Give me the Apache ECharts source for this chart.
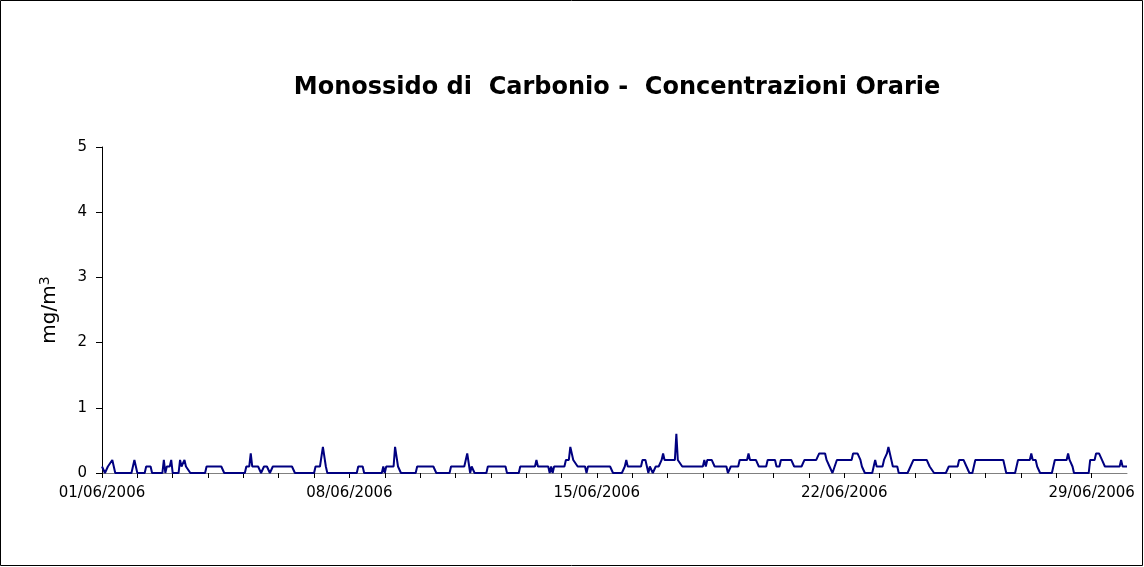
<!DOCTYPE html>
<html>
<head>
<meta charset="utf-8">
<script src="https://cdn.jsdelivr.net/npm/echarts@6/dist/echarts.min.js"></script>
<style>
  html, body { margin: 0; padding: 0; background: #fff; }
  #main { width: 1144px; height: 567px; }
</style>
</head>
<body>
<div id="main"></div>
<script>
// CO hourly concentrations, June 2006 — [hour since 01/06 00:00, mg/m3] at each change of value
const week1 = [[0,0.1],[2,0],[4,0.1],[7,0.2],[9,0],[20,0],[22,0.2],[24,0],[29,0],[30,0.1],[33,0.1],[34,0],
  [41,0],[42,0.2],[43,0],[44,0.1],[46,0.1],[47,0.2],[48,0],[52,0],[53,0.2],[54,0.1],[56,0.2],[57,0.1],[58,0.1],[60,0],
  [70,0],[71,0.1],[81,0.1],[83,0],[97,0],[98,0.1],[100,0.1],[101,0.3],[102,0.1],[106,0.1],[108,0],[110,0.1],[112,0.1],
  [114,0],[116,0.1],[129,0.1],[131,0],[144,0],[145,0.1],[148,0.1],[150,0.4],[152,0.1],[153,0]];
const week2 = [[173,0],[174,0.1],[177,0.1],[178,0],[190,0],[191,0.1],[192,0],[193,0.1],[198,0.1],[199,0.4],[201,0.1],
  [202,0.1],[203,0],[213,0],[214,0.1],[225,0.1],[227,0],[236,0],[237,0.1],[246,0.1],[248,0.3],[250,0],[251,0.1],[253,0],
  [261,0],[262,0.1],[274,0.1],[275,0],[283,0],[284,0.1],[294,0.1],[295,0.2],[296,0.1],[303,0.1],[304,0],[305,0.1],[306,0],
  [307,0.1],[314,0.1],[315,0.2],[317,0.2],[318,0.4],[320,0.2],[321,0.2],[323,0.1],[328,0.1],[329,0],[330,0.1]];
const week3 = [[345,0.1],[347,0],[353,0],[355,0.1],[356,0.2],[357,0.1],[366,0.1],[367,0.2],[369,0.2],[370,0.1],[371,0],
  [372,0.1],[374,0],[376,0.1],[378,0.1],[380,0.2],[381,0.3],[382,0.2],[389,0.2],[390,0.6],[391,0.2],[392,0.2],[394,0.1],
  [408,0.1],[409,0.2],[410,0.1],[411,0.2],[414,0.2],[416,0.1],[424,0.1],[425,0],[427,0.1],[432,0.1],[433,0.2],[438,0.2],
  [439,0.3],[440,0.2],[444,0.2],[446,0.1],[451,0.1],[452,0.2],[457,0.2],[458,0.1],[460,0.1],[461,0.2],[468,0.2],[470,0.1],
  [475,0.1],[477,0.2],[485,0.2],[487,0.3],[491,0.3],[492,0.2],[494,0.1],[496,0],[497,0],[499,0.2]];
const week4 = [[509,0.2],[510,0.3],[513,0.3],[515,0.2],[516,0.1],[518,0],[523,0],[525,0.2],[526,0.1],[530,0.1],[531,0.2],
  [533,0.3],[534,0.4],[535,0.3],[536,0.2],[537,0.1],[540,0.1],[541,0],[547,0],[549,0.1],[551,0.2],[560,0.2],[562,0.1],
  [565,0],[573,0],[575,0.1],[581,0.1],[582,0.2],[585,0.2],[587,0.1],[589,0],[591,0],[593,0.2],[612,0.2],[614,0],[620,0],
  [622,0.2],[630,0.2],[631,0.3],[632,0.2],[634,0.2],[635,0.1],[637,0],[645,0],[647,0.2],[655,0.2],[656,0.3],[657,0.2],
  [659,0.1],[660,0],[670,0],[671,0.2]];
const week5 = [[674,0.2],[675,0.3],[677,0.3],[679,0.2],[681,0.1],[691,0.1],[692,0.2],[693,0.1],[696,0.1]];

const yTicks = [0, 1, 2, 3, 4, 5];

const chartDom = document.getElementById('main');
const myChart = echarts.init(chartDom);
const font = 'DejaVu Sans';

let option = {
  animation: false,
  backgroundColor: '#fff',
  title: {
    text: 'Monossido di  Carbonio -  Concentrazioni Orarie',
    left: 612,
    top: 71,
    textAlign: 'center',
    textStyle: { fontFamily: font, fontSize: 24, fontWeight: 'bold', color: '#000' }
  },
  graphic: [{
    type: 'rect',
    shape: { x: 0.5, y: 0.5, width: 1142, height: 565 },
    style: { fill: 'none', stroke: '#000', lineWidth: 1 },
    silent: true
  }],
  grid: { left: 102, right: 17, top: 147, bottom: 94 },
  xAxis: {
    type: 'value',
    min: 0,
    max: 696,
    interval: 24,
    splitLine: { show: false },
    axisLine: { lineStyle: { color: '#808080', width: 1 } },
    axisTick: { show: true, length: 5, lineStyle: { color: '#000' } },
    axisLabel: {
      color: '#000',
      fontFamily: font,
      fontSize: 15,
      margin: 13,
      showMaxLabel: false,
      formatter: function (v) {
        if (v % 168 !== 0) return '';
        const d = 1 + v / 24;
        return (d < 10 ? '0' + d : d) + '/06/2006';
      }
    }
  },
  yAxis: {
    type: 'value',
    min: yTicks[0],
    max: yTicks[yTicks.length - 1],
    interval: 1,
    name: '{a|mg/m}{b|3}',
    nameLocation: 'middle',
    nameRotate: 90,
    nameGap: 40,
    nameTextStyle: {
      rich: {
        a: { fontFamily: font, fontSize: 20, color: '#000', lineHeight: 24 },
        b: { fontFamily: font, fontSize: 14, color: '#000', verticalAlign: 'top', lineHeight: 14 }
      }
    },
    splitLine: { show: false },
    axisLine: { show: true, lineStyle: { color: '#000', width: 1 } },
    axisTick: { show: true, length: 6, lineStyle: { color: '#000' } },
    axisLabel: { color: '#000', fontFamily: font, fontSize: 15, margin: 15 }
  },
  series: [{
    name: 'CO',
    type: 'line',
    symbol: 'none',
    lineStyle: { color: '#000080', width: 2 },
    data: week1.concat(week2, week3, week4, week5)
  }]
};

option && myChart.setOption(option);
</script>
</body>
</html>
